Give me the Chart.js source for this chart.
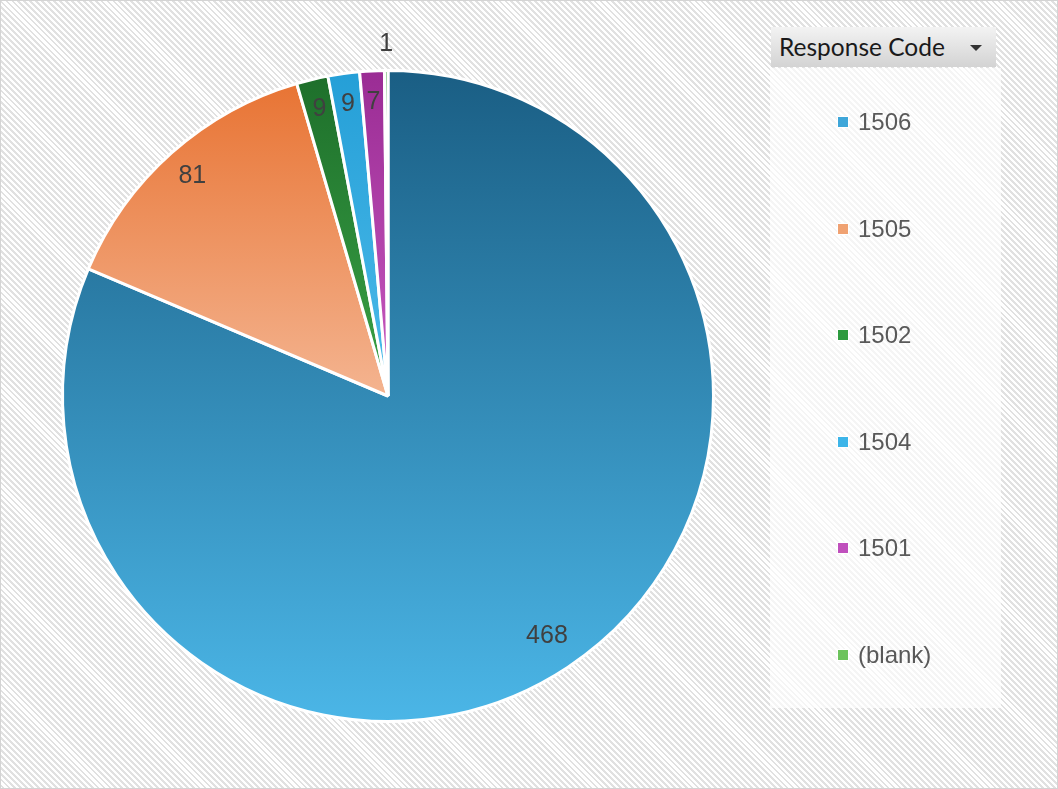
<!DOCTYPE html>
<html lang="en">
<head>
<meta charset="UTF-8">
<title>Response Code</title>
<script src="https://cdn.jsdelivr.net/npm/chart.js"></script>
<style>
  html, body { margin: 0; padding: 0; }
  body {
    width: 1058px; height: 789px; overflow: hidden; position: relative;
    background: repeating-linear-gradient(45deg, #ffffff 0px, #ffffff 2.2px, #e1e1e1 2.2px, #e1e1e1 4.2px);
  }
  #frame { position: absolute; left: 0; top: 0; width: 1056px; height: 787px; border: 1px solid #d4d4d4; }
  #wrap { position: absolute; left: 0; top: 0; width: 1058px; height: 789px; }
  #panel {
    position: absolute; left: 770px; top: 68px; width: 231px; height: 640px;
    background: rgba(255, 255, 255, 0.65);
  }
  #fieldBtn {
    position: absolute; left: 771px; top: 27px; width: 225px; height: 40px;
    background: linear-gradient(#f3f3f3, #d3d3d3);
    font-family: Lato, "Liberation Sans", sans-serif; font-size: 24.5px; color: #1a1a1a;
    line-height: 40px; padding-left: 8px; box-sizing: border-box;
  }
  #fieldBtn .arrow {
    position: absolute; right: 14px; top: 18px; width: 0; height: 0;
    border-left: 6px solid transparent; border-right: 6px solid transparent; border-top: 6px solid #333;
  }
  .item {
    position: absolute; left: 837px; font-family: "Liberation Sans", Arial, sans-serif;
    font-size: 24px; color: #595959; line-height: 24px;
  }
  .item .box {
    display: inline-block; width: 10px; height: 10px; margin-right: 9px;
    border: 1px solid #fff; vertical-align: 2px;
  }
</style>
</head>
<body>
<div id="frame"></div>
<div id="wrap"><canvas id="pie"></canvas></div>
<div id="panel"></div>
<div id="fieldBtn">Response Code<span class="arrow"></span></div>
<div id="legend"></div>
<script>
// data
const codes = ['1506', '1505', '1502', '1504', '1501', '(blank)'];
const counts = [468, 81, 9, 9, 7, 1];

// colours: top / bottom of each slice gradient, and legend swatches
const topColors = ['#1a5e84', '#e87434', '#1e6f2b', '#259fd7', '#9a2c94', '#4aa84a'];
const bottomColors = ['#4bb6e7', '#f4b490', '#3aa346', '#4cbbea', '#c95ac1', '#6cc35c'];
const swatchColors = ['#3ea6d9', '#f0a272', '#2c9a3e', '#3db5e9', '#c050bd', '#6cc35c'];

// vertical gradient per slice, spanning its own bounding box
const sliceGradient = {
    id: 'sliceGradient',
    beforeDatasetsDraw(chart) {
        const ctx = chart.ctx;
        chart.getDatasetMeta(0).data.forEach((arc, i) => {
            const r = arc.outerRadius;
            const ys = [arc.y, arc.y + r * Math.sin(arc.startAngle), arc.y + r * Math.sin(arc.endAngle)];
            // top of circle at -PI/2 (or 3PI/2), bottom at PI/2
            [-Math.PI / 2, Math.PI / 2, 3 * Math.PI / 2, 5 * Math.PI / 2].forEach(a => {
                if (a >= arc.startAngle && a <= arc.endAngle) ys.push(arc.y + r * Math.sin(a));
            });
            const y0 = Math.min(...ys), y1 = Math.max(...ys);
            const g = ctx.createLinearGradient(0, y0, 0, y1 > y0 ? y1 : y0 + 1);
            g.addColorStop(0, topColors[i]);
            g.addColorStop(1, bottomColors[i]);
            arc.options.backgroundColor = g;
        });
    }
};

// value labels like Excel "best fit"
const valueLabels = {
    id: 'valueLabels',
    afterDatasetsDraw(chart) {
        const ctx = chart.ctx;
        ctx.save();
        ctx.font = '25px "Liberation Sans", Arial, sans-serif';
        ctx.fillStyle = '#404040';
        ctx.textAlign = 'center';
        ctx.textBaseline = 'middle';
        chart.getDatasetMeta(0).data.forEach((arc, i) => {
            const mid = (arc.startAngle + arc.endAngle) / 2;
            const span = arc.endAngle - arc.startAngle;
            const f = span < 0.03 ? 1.08 : (span > 3 ? 0.885 : 0.905);
            const x = arc.x + Math.cos(mid) * arc.outerRadius * f;
            const y = arc.y + Math.sin(mid) * arc.outerRadius * f;
            ctx.fillText(String(counts[i]), x, y);
        });
        ctx.restore();
    }
};

const chart = new Chart(document.getElementById('pie'), {
    type: 'pie',
    data: {
        labels: codes,
        datasets: [{
            data: counts,
            backgroundColor: (c) => swatchColors[c.dataIndex],
            borderColor: '#ffffff',
            borderWidth: 3
        }]
    },
    options: {
        responsive: true,
        maintainAspectRatio: false,
        animation: false,
        layout: { padding: { left: 61, right: 343, top: 69, bottom: 66 } },
        plugins: {
            legend: { display: false },
            tooltip: { enabled: false }
        }
    },
    plugins: [sliceGradient, valueLabels]
});

// legend beside the pie
const legend = document.getElementById('legend');
codes.forEach((code, i) => {
    const d = document.createElement('div');
    d.className = 'item';
    d.style.top = (110 + i * 106.6) + 'px';
    d.innerHTML = '<span class="box" style="background:' + swatchColors[i] + '"></span>' + code;
    legend.appendChild(d);
});
</script>
</body>
</html>
